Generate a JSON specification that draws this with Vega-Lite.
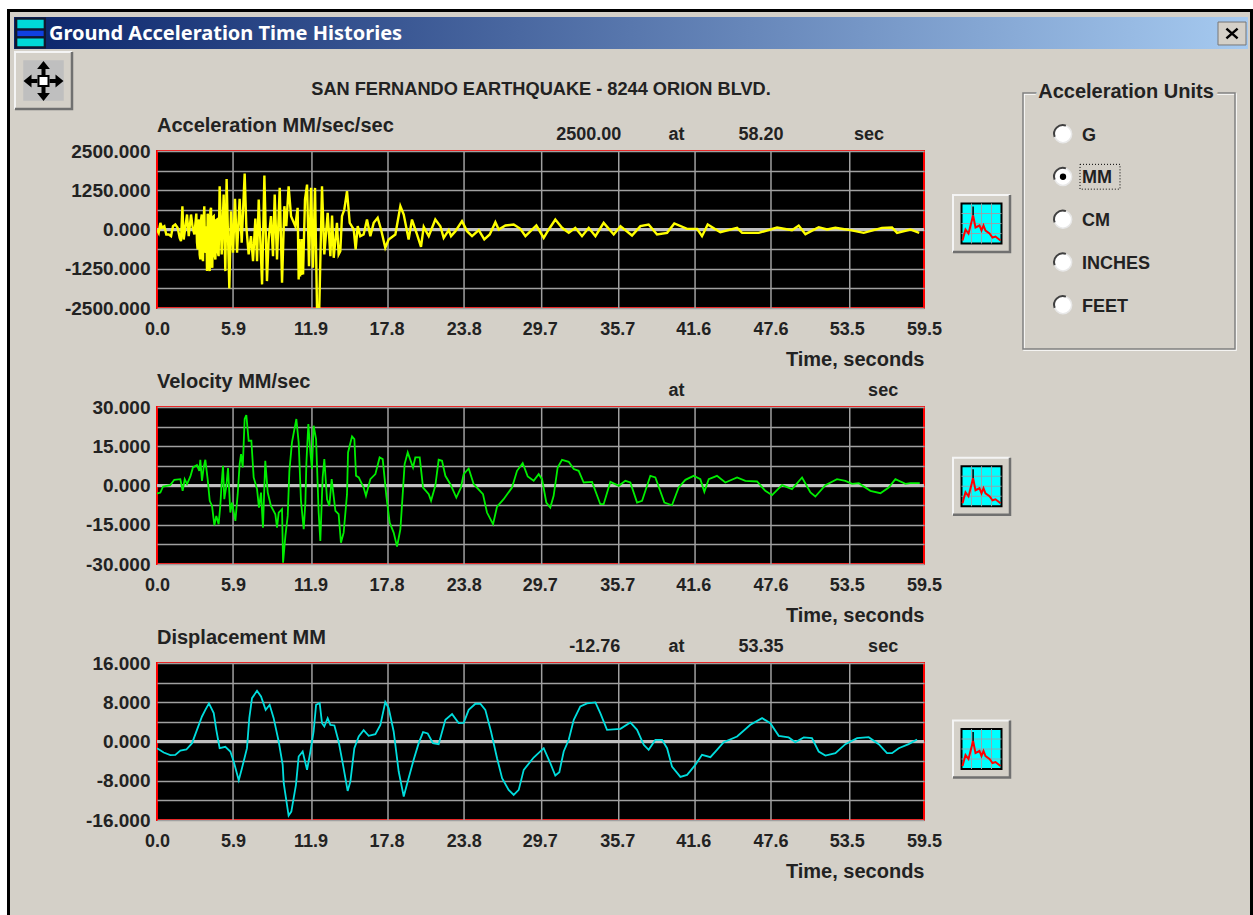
{
"$schema":"https://vega.github.io/schema/vega-lite/v6.json",
"autosize":{"type":"none"},
"background":"#ffffff",
"padding":{"left":157,"top":17,"right":1096,"bottom":898},
"config":{"font":"Liberation Sans","axis":{"labelFont":"Liberation Sans","labelFontWeight":"bold","labelFontSize":18,"labelColor":"#222222","ticks":false,"domain":false,"gridColor":"#a0a0a0","gridWidth":1.5,"gridOpacity":1,"labelOverlap":false,"labelBound":false,"labelFlush":false,"titleFont":"Liberation Sans","titleFontWeight":"bold","titleFontSize":20,"titleColor":"#222222"}},
"datasets":{
"acc":[{"t":0,"v":0},{"t":0.13,"v":-106},{"t":0.26,"v":212},{"t":0.39,"v":53},{"t":0.57,"v":106},{"t":0.72,"v":-159},{"t":0.91,"v":-159},{"t":1.09,"v":-212},{"t":1.24,"v":106},{"t":1.42,"v":159},{"t":1.6,"v":53},{"t":1.76,"v":-265},{"t":1.86,"v":-371},{"t":1.97,"v":742},{"t":2.07,"v":-318},{"t":2.33,"v":477},{"t":2.46,"v":-212},{"t":2.64,"v":477},{"t":2.77,"v":53},{"t":2.9,"v":-159},{"t":3.05,"v":509},{"t":3.1,"v":-400},{"t":3.15,"v":-636},{"t":3.2,"v":200},{"t":3.26,"v":318},{"t":3.31,"v":-800},{"t":3.36,"v":-954},{"t":3.41,"v":300},{"t":3.47,"v":477},{"t":3.52,"v":-900},{"t":3.57,"v":-1007},{"t":3.62,"v":300},{"t":3.67,"v":742},{"t":3.72,"v":-600},{"t":3.78,"v":-742},{"t":3.83,"v":100},{"t":3.88,"v":-1325},{"t":3.93,"v":500},{"t":3.98,"v":371},{"t":4.03,"v":-1200},{"t":4.09,"v":-1325},{"t":4.14,"v":600},{"t":4.19,"v":689},{"t":4.24,"v":-1000},{"t":4.29,"v":-1219},{"t":4.34,"v":400},{"t":4.4,"v":424},{"t":4.46,"v":-800},{"t":4.53,"v":-954},{"t":4.59,"v":300},{"t":4.65,"v":318},{"t":4.71,"v":-700},{"t":4.78,"v":-848},{"t":4.86,"v":1378},{"t":5.02,"v":-795},{"t":5.17,"v":1113},{"t":5.3,"v":-1325},{"t":5.4,"v":1611},{"t":5.61,"v":-1876},{"t":5.74,"v":583},{"t":5.9,"v":-742},{"t":6.05,"v":975},{"t":6.21,"v":-742},{"t":6.41,"v":975},{"t":6.57,"v":-424},{"t":6.8,"v":1781},{"t":6.93,"v":85},{"t":7.11,"v":-795},{"t":7.29,"v":-212},{"t":7.45,"v":-1007},{"t":7.63,"v":350},{"t":7.76,"v":-1007},{"t":7.89,"v":954},{"t":8.15,"v":-1749},{"t":8.33,"v":1717},{"t":8.53,"v":-1643},{"t":8.66,"v":-318},{"t":8.84,"v":424},{"t":9,"v":-848},{"t":9.13,"v":1113},{"t":9.31,"v":-954},{"t":9.52,"v":1325},{"t":9.7,"v":-1696},{"t":9.88,"v":742},{"t":10.03,"v":106},{"t":10.21,"v":1378},{"t":10.4,"v":424},{"t":10.73,"v":106},{"t":10.91,"v":689},{"t":10.99,"v":-1590},{"t":11.05,"v":-300},{"t":11.1,"v":-1500},{"t":11.15,"v":-400},{"t":11.2,"v":-1450},{"t":11.25,"v":-300},{"t":11.33,"v":-1431},{"t":11.48,"v":954},{"t":11.64,"v":1431},{"t":11.79,"v":-1166},{"t":11.95,"v":1325},{"t":12.1,"v":-1219},{"t":12.26,"v":1325},{"t":12.41,"v":-2470},{"t":12.59,"v":-2470},{"t":12.8,"v":1378},{"t":12.98,"v":-795},{"t":13.24,"v":530},{"t":13.45,"v":-848},{"t":13.58,"v":445},{"t":13.71,"v":-901},{"t":13.96,"v":212},{"t":14.09,"v":-795},{"t":14.22,"v":-689},{"t":14.35,"v":424},{"t":14.53,"v":636},{"t":14.74,"v":1219},{"t":14.95,"v":212},{"t":15.26,"v":0},{"t":15.41,"v":-636},{"t":15.57,"v":106},{"t":15.77,"v":-212},{"t":16.03,"v":-159},{"t":16.29,"v":318},{"t":16.55,"v":-212},{"t":16.81,"v":212},{"t":17.12,"v":371},{"t":17.38,"v":0},{"t":17.71,"v":-583},{"t":17.97,"v":-318},{"t":18.49,"v":-159},{"t":18.88,"v":742},{"t":19.14,"v":477},{"t":19.52,"v":-318},{"t":19.78,"v":318},{"t":20.17,"v":-159},{"t":20.48,"v":-551},{"t":20.69,"v":85},{"t":21.08,"v":-212},{"t":21.59,"v":318},{"t":21.98,"v":106},{"t":22.24,"v":-265},{"t":22.63,"v":-21},{"t":22.81,"v":-212},{"t":23.15,"v":-53},{"t":23.66,"v":265},{"t":24.05,"v":-53},{"t":24.44,"v":-212},{"t":24.96,"v":-21},{"t":25.39,"v":-318},{"t":25.81,"v":-159},{"t":26.25,"v":233},{"t":26.51,"v":0},{"t":27.03,"v":127},{"t":27.67,"v":159},{"t":28.19,"v":21},{"t":28.58,"v":-212},{"t":29.43,"v":127},{"t":30,"v":-265},{"t":30.39,"v":0},{"t":30.9,"v":318},{"t":31.42,"v":53},{"t":31.94,"v":-106},{"t":32.45,"v":53},{"t":32.97,"v":-212},{"t":33.49,"v":53},{"t":34.01,"v":-212},{"t":34.65,"v":212},{"t":35.43,"v":-159},{"t":35.95,"v":106},{"t":36.85,"v":-191},{"t":37.5,"v":106},{"t":38.14,"v":159},{"t":38.79,"v":-159},{"t":39.57,"v":-106},{"t":40.13,"v":191},{"t":41.12,"v":21},{"t":41.9,"v":21},{"t":42.28,"v":-212},{"t":42.72,"v":159},{"t":43.7,"v":-85},{"t":45,"v":53},{"t":45.39,"v":-106},{"t":46.68,"v":-106},{"t":48.1,"v":64},{"t":49.26,"v":-21},{"t":49.78,"v":127},{"t":50.3,"v":-148},{"t":51.33,"v":74},{"t":51.98,"v":0},{"t":52.62,"v":53},{"t":53.79,"v":-21},{"t":54.82,"v":-106},{"t":56.24,"v":53},{"t":57.02,"v":64},{"t":57.41,"v":-106},{"t":58.44,"v":0},{"t":59.13,"v":-106}],
"vel":[{"t":0,"v":-3.07},{"t":0.26,"v":-2.68},{"t":0.47,"v":-0.38},{"t":1.03,"v":0.13},{"t":1.34,"v":2.17},{"t":1.81,"v":2.43},{"t":1.99,"v":-2.04},{"t":2.15,"v":2.43},{"t":2.33,"v":0.51},{"t":2.59,"v":3.45},{"t":2.79,"v":6.9},{"t":3.1,"v":7.79},{"t":3.28,"v":5.62},{"t":3.36,"v":9.83},{"t":3.49,"v":1.79},{"t":3.62,"v":6.9},{"t":3.75,"v":9.83},{"t":3.93,"v":2.43},{"t":4.09,"v":-5.87},{"t":4.27,"v":-7.79},{"t":4.45,"v":-15.2},{"t":4.6,"v":-11.62},{"t":4.78,"v":-14.81},{"t":4.91,"v":-7.79},{"t":5.02,"v":1.15},{"t":5.12,"v":7.54},{"t":5.22,"v":-5.24},{"t":5.38,"v":-0.13},{"t":5.51,"v":6.64},{"t":5.69,"v":-10.34},{"t":5.82,"v":-6.51},{"t":6.08,"v":-13.54},{"t":6.26,"v":-3.32},{"t":6.41,"v":8.17},{"t":6.52,"v":12.01},{"t":6.65,"v":6.9},{"t":6.8,"v":25.42},{"t":6.93,"v":26.95},{"t":7.11,"v":17.11},{"t":7.32,"v":17.11},{"t":7.5,"v":3.07},{"t":7.76,"v":-1.4},{"t":7.91,"v":-8.43},{"t":8.07,"v":-2.68},{"t":8.22,"v":-16.09},{"t":8.4,"v":9.45},{"t":8.59,"v":-2.68},{"t":8.84,"v":-7.79},{"t":9.18,"v":-10.98},{"t":9.31,"v":-16.09},{"t":9.44,"v":-10.34},{"t":9.7,"v":-9.07},{"t":9.78,"v":-29.5},{"t":9.96,"v":-19.28},{"t":10.14,"v":-11.62},{"t":10.27,"v":5.62},{"t":10.47,"v":16.48},{"t":10.81,"v":25.42},{"t":10.99,"v":16.48},{"t":11.17,"v":-5.87},{"t":11.38,"v":-16.73},{"t":11.51,"v":-6.51},{"t":11.59,"v":8.81},{"t":11.74,"v":23.5},{"t":11.9,"v":12.64},{"t":12.02,"v":6.26},{"t":12.15,"v":22.86},{"t":12.34,"v":17.75},{"t":12.54,"v":-10.34},{"t":12.67,"v":-21.2},{"t":12.85,"v":3.07},{"t":12.98,"v":10.09},{"t":13.19,"v":-5.24},{"t":13.37,"v":-7.79},{"t":13.55,"v":2.43},{"t":13.84,"v":-9.71},{"t":14.09,"v":-10.98},{"t":14.27,"v":-21.84},{"t":14.48,"v":-18.01},{"t":14.74,"v":-3.32},{"t":14.82,"v":12.64},{"t":15.13,"v":18.77},{"t":15.31,"v":17.75},{"t":15.44,"v":3.7},{"t":15.65,"v":3.07},{"t":16.03,"v":-0.77},{"t":16.21,"v":-3.96},{"t":16.55,"v":2.43},{"t":16.94,"v":4.34},{"t":17.27,"v":10.73},{"t":17.51,"v":10.09},{"t":17.79,"v":-3.96},{"t":18.05,"v":-14.18},{"t":18.36,"v":-18.01},{"t":18.62,"v":-23.37},{"t":18.88,"v":-16.73},{"t":19.01,"v":-7.15},{"t":19.21,"v":8.17},{"t":19.45,"v":12.64},{"t":19.86,"v":6.9},{"t":20.04,"v":10.73},{"t":20.38,"v":10.73},{"t":20.64,"v":-0.77},{"t":21.08,"v":-3.32},{"t":21.26,"v":-5.87},{"t":21.59,"v":-0.13},{"t":21.85,"v":9.83},{"t":22.11,"v":9.45},{"t":22.37,"v":3.7},{"t":22.76,"v":0.51},{"t":23.22,"v":-4.6},{"t":23.58,"v":-0.77},{"t":23.79,"v":4.34},{"t":24.18,"v":6.51},{"t":24.57,"v":0.51},{"t":25.29,"v":-3.32},{"t":25.6,"v":-10.34},{"t":26.07,"v":-14.81},{"t":26.38,"v":-8.05},{"t":26.89,"v":-5.24},{"t":27.54,"v":-0.77},{"t":27.93,"v":5.62},{"t":28.37,"v":8.56},{"t":28.76,"v":3.45},{"t":29.22,"v":1.79},{"t":29.61,"v":4.34},{"t":29.87,"v":2.43},{"t":30.2,"v":-6.51},{"t":30.51,"v":-8.43},{"t":30.77,"v":-3.96},{"t":31.08,"v":6.9},{"t":31.42,"v":9.83},{"t":31.94,"v":9.07},{"t":32.33,"v":6.26},{"t":32.71,"v":5.62},{"t":33.1,"v":1.15},{"t":33.75,"v":1.4},{"t":34.39,"v":-7.15},{"t":34.65,"v":-7.15},{"t":35.17,"v":1.4},{"t":35.82,"v":-0.13},{"t":36.33,"v":1.79},{"t":36.72,"v":1.15},{"t":37.24,"v":-6.51},{"t":37.63,"v":-5.87},{"t":38.27,"v":3.7},{"t":38.66,"v":3.07},{"t":39.36,"v":-6.51},{"t":39.95,"v":-7.54},{"t":40.47,"v":-0.77},{"t":40.99,"v":2.17},{"t":41.63,"v":3.7},{"t":42.15,"v":2.43},{"t":42.46,"v":-2.43},{"t":42.8,"v":2.43},{"t":43.44,"v":3.7},{"t":44.09,"v":1.15},{"t":45,"v":3.07},{"t":45.64,"v":1.79},{"t":46.55,"v":1.53},{"t":47.19,"v":-2.04},{"t":47.71,"v":-3.7},{"t":48.49,"v":0.13},{"t":49.26,"v":-1.4},{"t":50.04,"v":3.07},{"t":50.69,"v":-2.68},{"t":51.07,"v":-4.21},{"t":51.85,"v":0.13},{"t":52.75,"v":2.43},{"t":53.4,"v":1.79},{"t":53.92,"v":0.64},{"t":54.44,"v":0.89},{"t":55.34,"v":-2.04},{"t":56.12,"v":-2.94},{"t":56.76,"v":-0.77},{"t":57.28,"v":2.43},{"t":58.06,"v":0.64},{"t":58.44,"v":0.89},{"t":59.17,"v":0.89}],
"dis":[{"t":0,"v":-1.36},{"t":0.52,"v":-2.24},{"t":1.03,"v":-2.79},{"t":1.42,"v":-2.72},{"t":1.81,"v":-1.84},{"t":2.28,"v":-1.63},{"t":2.72,"v":-0.34},{"t":3.1,"v":2.38},{"t":3.49,"v":5.1},{"t":3.75,"v":6.46},{"t":4.03,"v":7.76},{"t":4.4,"v":5.78},{"t":4.6,"v":2.38},{"t":4.86,"v":-1.36},{"t":5.3,"v":-1.09},{"t":5.69,"v":-2.04},{"t":5.95,"v":-4.08},{"t":6.34,"v":-7.89},{"t":6.59,"v":-5.44},{"t":6.98,"v":-1.36},{"t":7.16,"v":4.76},{"t":7.37,"v":8.84},{"t":7.76,"v":10.34},{"t":8.07,"v":9.18},{"t":8.43,"v":6.46},{"t":8.74,"v":7.48},{"t":9.05,"v":4.76},{"t":9.44,"v":0},{"t":9.75,"v":-4.76},{"t":9.83,"v":-8.5},{"t":10.21,"v":-15.1},{"t":10.42,"v":-14.29},{"t":10.78,"v":-8.84},{"t":10.99,"v":-3.06},{"t":11.3,"v":-2.04},{"t":11.64,"v":-5.78},{"t":11.9,"v":-2.04},{"t":12.15,"v":2.04},{"t":12.34,"v":7.48},{"t":12.62,"v":7.82},{"t":12.8,"v":3.74},{"t":12.98,"v":3.06},{"t":13.24,"v":4.76},{"t":13.45,"v":3.4},{"t":13.76,"v":3.27},{"t":14.09,"v":0},{"t":14.43,"v":-4.76},{"t":14.79,"v":-10.07},{"t":15,"v":-8.16},{"t":15.31,"v":-1.36},{"t":15.65,"v":1.02},{"t":16.03,"v":2.31},{"t":16.42,"v":1.16},{"t":16.94,"v":1.5},{"t":17.33,"v":3.4},{"t":17.71,"v":8.03},{"t":17.97,"v":6.8},{"t":18.36,"v":2.04},{"t":18.75,"v":-6.12},{"t":19.14,"v":-11.22},{"t":19.45,"v":-8.16},{"t":19.91,"v":-3.74},{"t":20.3,"v":-0.34},{"t":20.64,"v":1.9},{"t":21,"v":1.63},{"t":21.41,"v":-0.34},{"t":21.85,"v":-0.54},{"t":22.37,"v":4.42},{"t":22.89,"v":5.58},{"t":23.4,"v":3.74},{"t":23.79,"v":3.81},{"t":24.18,"v":6.46},{"t":24.7,"v":7.69},{"t":25.08,"v":7.69},{"t":25.47,"v":6.46},{"t":25.91,"v":2.04},{"t":26.38,"v":-3.4},{"t":26.77,"v":-7.48},{"t":27.28,"v":-9.86},{"t":27.67,"v":-10.88},{"t":28.06,"v":-9.86},{"t":28.45,"v":-5.78},{"t":29.22,"v":-3.27},{"t":30,"v":-1.36},{"t":30.46,"v":-4.08},{"t":30.9,"v":-6.94},{"t":31.21,"v":-6.26},{"t":31.55,"v":-2.04},{"t":31.94,"v":0.34},{"t":32.33,"v":4.42},{"t":32.84,"v":7.14},{"t":33.36,"v":7.76},{"t":34.01,"v":7.96},{"t":34.39,"v":5.78},{"t":34.91,"v":2.38},{"t":35.95,"v":2.59},{"t":36.72,"v":3.88},{"t":37.24,"v":2.38},{"t":37.76,"v":-0.68},{"t":38.14,"v":-1.7},{"t":38.66,"v":0.34},{"t":39.18,"v":0.34},{"t":39.57,"v":-1.36},{"t":39.95,"v":-5.1},{"t":40.6,"v":-7.21},{"t":41.12,"v":-6.8},{"t":41.76,"v":-4.76},{"t":42.28,"v":-2.72},{"t":42.93,"v":-3.2},{"t":43.44,"v":-1.7},{"t":43.96,"v":-0.14},{"t":45,"v":1.02},{"t":46.03,"v":3.4},{"t":46.94,"v":4.76},{"t":47.58,"v":3.74},{"t":48.23,"v":1.16},{"t":49,"v":0.82},{"t":49.52,"v":-0.14},{"t":50.17,"v":0.82},{"t":50.81,"v":0.68},{"t":51.33,"v":-2.04},{"t":51.85,"v":-2.86},{"t":52.63,"v":-2.38},{"t":53.4,"v":-0.54},{"t":54.31,"v":0.68},{"t":55.21,"v":0.88},{"t":55.99,"v":-0.54},{"t":56.63,"v":-2.38},{"t":57.02,"v":-2.38},{"t":57.54,"v":-1.36},{"t":58.31,"v":-0.54},{"t":58.96,"v":0.41}],
"gridT":[{"t":5.9},{"t":12.02},{"t":17.92},{"t":23.82},{"t":29.84},{"t":35.82},{"t":41.74},{"t":47.63},{"t":53.74}],
"icons":[{"panel":"Acceleration"},{"panel":"Velocity"},{"panel":"Displacement"}],
"units":[{"unit":"G"},{"unit":"MM"},{"unit":"CM"},{"unit":"INCHES"},{"unit":"FEET"}],
"one":[{"item":"chrome"}]
},
"bounds":"flush",
"spacing":99,
"vconcat":[
{"width":767,"height":35,"view":{"stroke":null},
 "resolve":{"scale":{"y":"independent"}},
 "layer":[
  {"data":{"name":"one"},"encoding":{},"layer":[
   {"mark":{"type":"point","shape":"M-1,-0.7386H1V0.7386H-1Z","size":1545049,"filled":true,"fill":"#d4d0c8","stroke":"#000000","strokeWidth":3,"opacity":1},"encoding":{"x":{"datum":630,"type":"quantitative","scale":{"domain":[157,924],"nice":false},"axis":null},"y":{"datum":469.5,"type":"quantitative","scale":{"domain":[52,17],"nice":false},"axis":null}}},
   {"mark":{"type":"point","shape":"M-1,-0.02593H1V0.02593H-1Z","size":1522756,"filled":true,"stroke":null,"opacity":1,"fill":{"gradient":"linear","x1":0,"x2":1,"y1":0,"y2":0,"stops":[{"offset":0,"color":"#0a246a"},{"offset":1,"color":"#a6caf0"}]}},"encoding":{"x":{"datum":631,"type":"quantitative","scale":{"domain":[157,924],"nice":false},"axis":null},"y":{"datum":33,"type":"quantitative","scale":{"domain":[52,17],"nice":false},"axis":null}}},
   {"mark":{"type":"point","shape":"square","size":961,"filled":true,"fill":"#101830","stroke":null,"opacity":1},"encoding":{"x":{"datum":30.5,"type":"quantitative","scale":{"domain":[157,924],"nice":false},"axis":null},"y":{"datum":33,"type":"quantitative","scale":{"domain":[52,17],"nice":false},"axis":null}}},
   {"mark":{"type":"point","shape":"M-0.85,-0.85H0.85V-0.3H-0.85ZM-0.85,0.35H0.85V0.85H-0.85Z","size":961,"filled":true,"fill":"#00d8d8","stroke":null,"opacity":1},"encoding":{"x":{"datum":30.5,"type":"quantitative","scale":{"domain":[157,924],"nice":false},"axis":null},"y":{"datum":33,"type":"quantitative","scale":{"domain":[52,17],"nice":false},"axis":null}}},
   {"mark":{"type":"point","shape":"M-0.85,-0.15H0.85V0.2H-0.85Z","size":961,"filled":true,"fill":"#1040e0","stroke":null,"opacity":1},"encoding":{"x":{"datum":30.5,"type":"quantitative","scale":{"domain":[157,924],"nice":false},"axis":null},"y":{"datum":33,"type":"quantitative","scale":{"domain":[52,17],"nice":false},"axis":null}}},
   {"mark":{"type":"text","text":"Ground Acceleration Time Histories","align":"left","baseline":"middle","font":"Noto Sans","fontWeight":"bold","fontSize":20,"fill":"#ffffff"},"encoding":{"x":{"datum":49,"type":"quantitative","scale":{"domain":[157,924],"nice":false},"axis":null},"y":{"datum":33.5,"type":"quantitative","scale":{"domain":[52,17],"nice":false},"axis":null}}},
   {"mark":{"type":"point","shape":"M-1,-0.82H1V0.82H-1Z","size":784,"filled":true,"fill":"#d4d0c8","stroke":"#777777","strokeWidth":1,"opacity":1},"encoding":{"x":{"datum":1232,"type":"quantitative","scale":{"domain":[157,924],"nice":false},"axis":null},"y":{"datum":33.5,"type":"quantitative","scale":{"domain":[52,17],"nice":false},"axis":null}}},
   {"mark":{"type":"point","shape":"M-0.4,-0.35L0.4,0.35M-0.4,0.35L0.4,-0.35","size":784,"filled":false,"stroke":"#000000","strokeWidth":2.5,"opacity":1},"encoding":{"x":{"datum":1232,"type":"quantitative","scale":{"domain":[157,924],"nice":false},"axis":null},"y":{"datum":33.5,"type":"quantitative","scale":{"domain":[52,17],"nice":false},"axis":null}}},
   {"mark":{"type":"text","text":"SAN FERNANDO EARTHQUAKE - 8244 ORION BLVD.","align":"center","baseline":"middle","fontWeight":"bold","fontSize":18.2,"fill":"#222222"},"encoding":{"x":{"datum":541,"type":"quantitative","scale":{"domain":[157,924],"nice":false},"axis":null},"y":{"datum":89.5,"type":"quantitative","scale":{"domain":[52,17],"nice":false},"axis":null}}},
   {"mark":{"type":"point","shape":"square","size":3249,"filled":true,"fill":"#d4d0c8","stroke":null,"opacity":1},"encoding":{"x":{"datum":43.5,"type":"quantitative","scale":{"domain":[157,924],"nice":false},"axis":null},"y":{"datum":80.5,"type":"quantitative","scale":{"domain":[52,17],"nice":false},"axis":null}}},
   {"mark":{"type":"point","shape":"M-1,1V-1H1","size":3249,"filled":false,"stroke":"#f4f4f4","strokeWidth":2,"opacity":1},"encoding":{"x":{"datum":43.5,"type":"quantitative","scale":{"domain":[157,924],"nice":false},"axis":null},"y":{"datum":80.5,"type":"quantitative","scale":{"domain":[52,17],"nice":false},"axis":null}}},
   {"mark":{"type":"point","shape":"M-1,1H1V-1","size":3249,"filled":false,"stroke":"#707070","strokeWidth":2.5,"opacity":1},"encoding":{"x":{"datum":43.5,"type":"quantitative","scale":{"domain":[157,924],"nice":false},"axis":null},"y":{"datum":80.5,"type":"quantitative","scale":{"domain":[52,17],"nice":false},"axis":null}}},
   {"mark":{"type":"point","shape":"square","size":1640,"filled":true,"fill":"#bfbfbf","stroke":null,"opacity":1},"encoding":{"x":{"datum":43.5,"type":"quantitative","scale":{"domain":[157,924],"nice":false},"axis":null},"y":{"datum":80.5,"type":"quantitative","scale":{"domain":[52,17],"nice":false},"axis":null}}},
   {"mark":{"type":"point","shape":"M0,-1L0.32,-0.6H0.1V-0.3H-0.1V-0.6H-0.32ZM0,1L0.32,0.6H0.1V0.3H-0.1V0.6H-0.32ZM-1,0L-0.6,-0.32V-0.1H-0.3V0.1H-0.6V0.32ZM1,0L0.6,-0.32V-0.1H0.3V0.1H0.6V0.32Z","size":1600,"filled":true,"fill":"#000000","stroke":null,"opacity":1},"encoding":{"x":{"datum":43.5,"type":"quantitative","scale":{"domain":[157,924],"nice":false},"axis":null},"y":{"datum":81,"type":"quantitative","scale":{"domain":[52,17],"nice":false},"axis":null}}},
   {"mark":{"type":"point","shape":"square","size":100,"filled":true,"fill":"#ffffff","stroke":"#000000","strokeWidth":2,"opacity":1},"encoding":{"x":{"datum":43.5,"type":"quantitative","scale":{"domain":[157,924],"nice":false},"axis":null},"y":{"datum":81,"type":"quantitative","scale":{"domain":[52,17],"nice":false},"axis":null}}},
   {"mark":{"type":"point","shape":"M-1,-1.2075H1V1.2075H-1Z","size":44944,"filled":false,"stroke":"#ffffff","strokeWidth":1.5,"opacity":1},"encoding":{"x":{"datum":1130,"type":"quantitative","scale":{"domain":[157,924],"nice":false},"axis":null},"y":{"datum":222,"type":"quantitative","scale":{"domain":[52,17],"nice":false},"axis":null}}},
   {"mark":{"type":"point","shape":"M-1,-1.2075H1V1.2075H-1Z","size":44944,"filled":false,"stroke":"#808080","strokeWidth":1.5,"opacity":1},"encoding":{"x":{"datum":1129,"type":"quantitative","scale":{"domain":[157,924],"nice":false},"axis":null},"y":{"datum":221,"type":"quantitative","scale":{"domain":[52,17],"nice":false},"axis":null}}},
   {"mark":{"type":"text","text":"Acceleration Units","align":"center","baseline":"middle","fontWeight":"bold","fontSize":20,"fill":"#d4d0c8","stroke":"#d4d0c8","strokeWidth":8},"encoding":{"x":{"datum":1126,"type":"quantitative","scale":{"domain":[157,924],"nice":false},"axis":null},"y":{"datum":92,"type":"quantitative","scale":{"domain":[52,17],"nice":false},"axis":null}}},
   {"mark":{"type":"text","text":"Acceleration Units","align":"center","baseline":"middle","fontWeight":"bold","fontSize":20,"fill":"#222222"},"encoding":{"x":{"datum":1126,"type":"quantitative","scale":{"domain":[157,924],"nice":false},"axis":null},"y":{"datum":92,"type":"quantitative","scale":{"domain":[52,17],"nice":false},"axis":null}}}
  ]},
  {"data":{"name":"icons"},"encoding":{"x":{"datum":981.5,"type":"quantitative","scale":{"domain":[157,924],"nice":false},"axis":null},"y":{"field":"panel","type":"ordinal","axis":null,"scale":{"type":"point","padding":0,"domain":["Acceleration","Velocity","Displacement"],"range":[206.5,732]}}},"layer":[
   {"mark":{"type":"point","shape":"square","size":3249,"filled":true,"fill":"#d4d0c8","stroke":null,"opacity":1}},
   {"mark":{"type":"point","shape":"M-1,1V-1H1","size":3249,"filled":false,"stroke":"#f4f4f4","strokeWidth":2,"opacity":1}},
   {"mark":{"type":"point","shape":"M-1,1H1V-1","size":3249,"filled":false,"stroke":"#707070","strokeWidth":2.5,"opacity":1}},
   {"mark":{"type":"point","shape":"square","size":1600,"filled":true,"fill":"#00ffff","stroke":"#000000","strokeWidth":2,"opacity":1}},
   {"mark":{"type":"point","shape":"M-0.5,-1V1M0,-1V1M0.5,-1V1M-1,-0.5H1M-1,0H1M-1,0.5H1","size":1600,"filled":false,"stroke":"#8fa8b0","strokeWidth":1,"opacity":1}},
   {"mark":{"type":"point","shape":"M-0.42,-0.4V-0.85","size":1600,"filled":false,"stroke":"#000000","strokeWidth":1.5,"opacity":1}},
   {"mark":{"type":"point","shape":"M-0.95,0.85L-0.8,0.3L-0.65,0.5L-0.42,-0.4L-0.3,0.2L-0.1,0.1L0,0.35L0.1,0.1L0.2,0.35L0.4,0.5L0.55,0.7L0.7,0.65L0.95,0.85","size":1600,"filled":false,"stroke":"#ff0000","strokeWidth":2,"opacity":1}}
  ]},
  {"data":{"name":"units"},"encoding":{"y":{"field":"unit","type":"ordinal","axis":null,"scale":{"type":"point","padding":0,"domain":["G","MM","CM","INCHES","FEET"],"range":[117,288]}}},"layer":[
   {"mark":{"type":"point","shape":"circle","size":300,"filled":true,"fill":"#ffffff","stroke":"#e8e8e8","strokeWidth":1.5,"opacity":1},"encoding":{"x":{"datum":1063,"type":"quantitative","scale":{"domain":[157,924],"nice":false},"axis":null}}},
   {"mark":{"type":"point","shape":"M-1,0.35A1.05,1.05 0 0 1 0.35,-1","size":280,"filled":false,"stroke":"#404040","strokeWidth":2,"opacity":1},"encoding":{"x":{"datum":1063,"type":"quantitative","scale":{"domain":[157,924],"nice":false},"axis":null}}},
   {"transform":[{"filter":"datum.unit === 'MM'"}],"mark":{"type":"point","shape":"circle","size":40,"filled":true,"fill":"#000000","stroke":null,"opacity":1},"encoding":{"x":{"datum":1063,"type":"quantitative","scale":{"domain":[157,924],"nice":false},"axis":null}}},
   {"transform":[{"filter":"datum.unit === 'MM'"}],"mark":{"type":"point","shape":"M-1,-0.62H1V0.62H-1Z","size":1600,"filled":false,"stroke":"#000000","strokeWidth":1,"strokeDash":[1,2],"opacity":1},"encoding":{"x":{"datum":1100,"type":"quantitative","scale":{"domain":[157,924],"nice":false},"axis":null}}},
   {"mark":{"type":"text","align":"left","baseline":"middle","dy":1.5,"fontWeight":"bold","fontSize":18,"fill":"#222222"},"encoding":{"x":{"datum":1082,"type":"quantitative","scale":{"domain":[157,924],"nice":false},"axis":null},"text":{"field":"unit","type":"nominal"}}}
  ]}
 ]
},
{"width":767,"height":157,"view":{"fill":"#000000","stroke":"#ff0000","strokeWidth":2},
 "layer":[
  {"data":{"name":"gridT"},"mark":{"type":"rule","stroke":"#a0a0a0","strokeWidth":1.5},"encoding":{"x":{"field":"t","type":"quantitative","scale":{"domain":[0,59.5],"nice":false},"axis":{"values":[0,5.9,11.9,17.8,23.8,29.7,35.7,41.6,47.6,53.5,59.5],"format":".1f","grid":false,"labelPadding":12,"title":"Time, seconds","titleX":767,"titleY":51,"titleAlign":"right","titleBaseline":"middle"}}}},
  {"data":{"name":"one"},"mark":{"type":"rule","stroke":"#c0c0c0","strokeWidth":3},"encoding":{"y":{"datum":0,"type":"quantitative","scale":{"domain":[-2500,2500],"nice":false},"axis":{"values":[-2500,-1875,-1250,-625,0,625,1250,1875,2500],"tickCount":9,"grid":true,"labelExpr":"abs(datum.value)%1250==0?replace(format(datum.value,'.3f'),'−','-'):''","labelFontSize":19,"labelPadding":7,"title":null}}}},
  {"data":{"name":"acc"},"mark":{"type":"line","color":"#ffff00","strokeWidth":2.4,"clip":true},"encoding":{
    "x":{"field":"t","type":"quantitative","scale":{"domain":[0,59.5],"nice":false}},
    "y":{"field":"v","type":"quantitative","scale":{"domain":[-2500,2500],"nice":false}}}},
  {"data":{"values":[{"t":33.5,"label":"2500.00"},{"t":40.3,"label":"at"},{"t":46.86,"label":"58.20"},{"t":55.24,"label":"sec"}]},"mark":{"type":"text","baseline":"middle","dy":-16,"fontWeight":"bold","fontSize":18,"fill":"#222222"},"encoding":{"x":{"field":"t","type":"quantitative","scale":{"domain":[0,59.5],"nice":false}},"y":{"datum":2500,"type":"quantitative","scale":{"domain":[-2500,2500],"nice":false}},"text":{"field":"label","type":"nominal"}}},
  {"data":{"name":"one"},"mark":{"type":"text","text":"Acceleration MM/sec/sec","align":"left","baseline":"middle","dy":-25,"fontWeight":"bold","fontSize":20,"fill":"#222222"},"encoding":{"x":{"datum":0,"type":"quantitative","scale":{"domain":[0,59.5],"nice":false}},"y":{"datum":2500,"type":"quantitative","scale":{"domain":[-2500,2500],"nice":false}}}}
 ]
},
{"width":767,"height":157,"view":{"fill":"#000000","stroke":"#ff0000","strokeWidth":2},
 "layer":[
  {"data":{"name":"gridT"},"mark":{"type":"rule","stroke":"#a0a0a0","strokeWidth":1.5},"encoding":{"x":{"field":"t","type":"quantitative","scale":{"domain":[0,59.5],"nice":false},"axis":{"values":[0,5.9,11.9,17.8,23.8,29.7,35.7,41.6,47.6,53.5,59.5],"format":".1f","grid":false,"labelPadding":12,"title":"Time, seconds","titleX":767,"titleY":51,"titleAlign":"right","titleBaseline":"middle"}}}},
  {"data":{"name":"one"},"mark":{"type":"rule","stroke":"#c0c0c0","strokeWidth":3},"encoding":{"y":{"datum":0,"type":"quantitative","scale":{"domain":[-30,30],"nice":false},"axis":{"values":[-30,-22.5,-15,-7.5,0,7.5,15,22.5,30],"tickCount":9,"grid":true,"labelExpr":"abs(datum.value)%15==0?replace(format(datum.value,'.3f'),'−','-'):''","labelFontSize":19,"labelPadding":7,"title":null}}}},
  {"data":{"name":"vel"},"mark":{"type":"line","color":"#00ee00","strokeWidth":1.8,"clip":true},"encoding":{
    "x":{"field":"t","type":"quantitative","scale":{"domain":[0,59.5],"nice":false}},
    "y":{"field":"v","type":"quantitative","scale":{"domain":[-30,30],"nice":false}}}},
  {"data":{"values":[{"t":40.3,"label":"at"},{"t":56.33,"label":"sec"}]},"mark":{"type":"text","baseline":"middle","dy":-16,"fontWeight":"bold","fontSize":18,"fill":"#222222"},"encoding":{"x":{"field":"t","type":"quantitative","scale":{"domain":[0,59.5],"nice":false}},"y":{"datum":30,"type":"quantitative","scale":{"domain":[-30,30],"nice":false}},"text":{"field":"label","type":"nominal"}}},
  {"data":{"name":"one"},"mark":{"type":"text","text":"Velocity MM/sec","align":"left","baseline":"middle","dy":-25,"fontWeight":"bold","fontSize":20,"fill":"#222222"},"encoding":{"x":{"datum":0,"type":"quantitative","scale":{"domain":[0,59.5],"nice":false}},"y":{"datum":30,"type":"quantitative","scale":{"domain":[-30,30],"nice":false}}}}
 ]
},
{"width":767,"height":157,"view":{"fill":"#000000","stroke":"#ff0000","strokeWidth":2},
 "layer":[
  {"data":{"name":"gridT"},"mark":{"type":"rule","stroke":"#a0a0a0","strokeWidth":1.5},"encoding":{"x":{"field":"t","type":"quantitative","scale":{"domain":[0,59.5],"nice":false},"axis":{"values":[0,5.9,11.9,17.8,23.8,29.7,35.7,41.6,47.6,53.5,59.5],"format":".1f","grid":false,"labelPadding":12,"title":"Time, seconds","titleX":767,"titleY":51,"titleAlign":"right","titleBaseline":"middle"}}}},
  {"data":{"name":"one"},"mark":{"type":"rule","stroke":"#c0c0c0","strokeWidth":3},"encoding":{"y":{"datum":0,"type":"quantitative","scale":{"domain":[-16,16],"nice":false},"axis":{"values":[-16,-12,-8,-4,0,4,8,12,16],"tickCount":9,"grid":true,"labelExpr":"abs(datum.value)%8==0?replace(format(datum.value,'.3f'),'−','-'):''","labelFontSize":19,"labelPadding":7,"title":null}}}},
  {"data":{"name":"dis"},"mark":{"type":"line","color":"#00dddd","strokeWidth":1.8,"clip":true},"encoding":{
    "x":{"field":"t","type":"quantitative","scale":{"domain":[0,59.5],"nice":false}},
    "y":{"field":"v","type":"quantitative","scale":{"domain":[-16,16],"nice":false}}}},
  {"data":{"values":[{"t":33.95,"label":"-12.76"},{"t":40.3,"label":"at"},{"t":46.86,"label":"53.35"},{"t":56.33,"label":"sec"}]},"mark":{"type":"text","baseline":"middle","dy":-16,"fontWeight":"bold","fontSize":18,"fill":"#222222"},"encoding":{"x":{"field":"t","type":"quantitative","scale":{"domain":[0,59.5],"nice":false}},"y":{"datum":16,"type":"quantitative","scale":{"domain":[-16,16],"nice":false}},"text":{"field":"label","type":"nominal"}}},
  {"data":{"name":"one"},"mark":{"type":"text","text":"Displacement MM","align":"left","baseline":"middle","dy":-25,"fontWeight":"bold","fontSize":20,"fill":"#222222"},"encoding":{"x":{"datum":0,"type":"quantitative","scale":{"domain":[0,59.5],"nice":false}},"y":{"datum":16,"type":"quantitative","scale":{"domain":[-16,16],"nice":false}}}}
 ]
}
]}
